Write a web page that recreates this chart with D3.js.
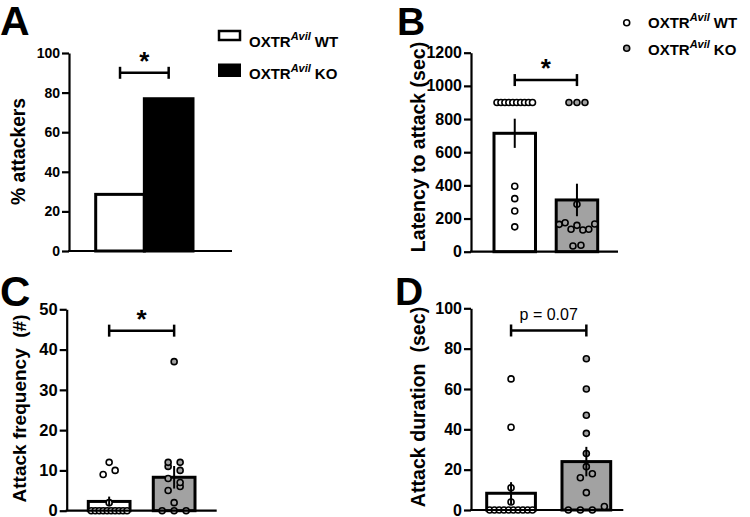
<!DOCTYPE html>
<html><head><meta charset="utf-8">
<script src="https://cdn.jsdelivr.net/npm/d3@7"></script>
<style>
body{margin:0;background:#fff;}
text{font-family:"Liberation Sans",Arial,sans-serif;}
</style></head>
<body><svg id="c" width="750" height="517"></svg>
<script>
// ---------- DATA ----------
const groups = ["WT", "KO"];
const legendLabels = ["WT", "KO"];
const pctAttackers = [28.6, 76.9];

const latencyMean = [714, 312];
const latencySem = [88, 98];
const latencyWT = [900, 900, 900, 900, 900, 900, 900, 900, 900, 900, 395, 320, 245, 150];
const latencyKO = [900, 900, 900, 286, 165, 175, 135, 159, 131, 135, 167, 34, 39];

const freqMean = [2.3, 8.3];
const freqSem = [1.2, 2.8];
const freqWT = [0, 0, 0, 0, 0, 0, 0, 0, 0, 0, 2, 9, 10, 12];
const freqKO = [0, 0, 0, 2, 5, 6, 8, 7, 11, 10, 12, 12, 37];

const durMean = [8.3, 24];
const durSem = [5.5, 7.3];
const durWT = [0, 0, 0, 0, 0, 0, 0, 0, 0, 0, 4, 11, 41, 65];
const durKO = [0, 0, 0, 1.7, 8.6, 16, 18, 21.5, 28, 38, 47, 60, 75];

const ticksA = [0, 20, 40, 60, 80, 100];
const ticksB = [0, 200, 400, 600, 800, 1000, 1200];
const ticksC = [0, 10, 20, 30, 40, 50];
const ticksD = [0, 20, 40, 60, 80, 100];

// ---------- DRAW ----------
const svg = d3.select("#c");
const FONT = '"Liberation Sans",Arial,sans-serif';
const KOGRAY = "#a2a2a2";
const R = 3.0, RS = 1.6;

function swarm(vals, y, cx, step, maxSpan, thr) {
  const items = vals.map((v, i) => ({v, i, py: y(v)}));
  const sorted = items.slice().sort((a, b) => a.v - b.v || a.i - b.i);
  const groupsArr = [];
  let cur = null;
  sorted.forEach(it => {
    if (!cur || Math.abs(it.py - cur[0].py) > thr) { cur = [it]; groupsArr.push(cur); }
    else cur.push(it);
  });
  groupsArr.forEach(gr => {
    gr.sort((a, b) => a.i - b.i);
    const n = gr.length;
    const span = n > 1 ? Math.min(step * (n - 1), maxSpan) : 0;
    gr.forEach((it, k) => { it.px = cx - span / 2 + (n > 1 ? k * span / (n - 1) : 0); });
  });
  return items;
}

function panel(p) {
  const g = svg.append("g");
  const y = d3.scaleLinear().domain([0, p.max]).range([p.y0, p.y1]);
  const x = d3.scaleBand().domain(groups).range(p.xr).paddingInner(p.pi);
  const bw = x.bandwidth();

  // bars
  g.selectAll("rect.bar").data(groups).join("rect")
    .attr("x", d => x(d)).attr("width", bw)
    .attr("y", (d, i) => y(p.means[i])).attr("height", (d, i) => y(0) - y(p.means[i]))
    .attr("fill", (d, i) => p.fills[i]).attr("stroke", "#000").attr("stroke-width", 3);

  // points
  if (p.points) {
    p.points.forEach((vals, gi) => {
      const cx = x(groups[gi]) + bw / 2;
      const pts = swarm(vals, y, cx, p.step, bw - 6, 7.6);
      g.selectAll(null).data(pts).join("circle")
        .attr("cx", d => d.px).attr("cy", d => d.py).attr("r", R)
        .attr("fill", p.ptFills[gi]).attr("stroke", "#000").attr("stroke-width", RS);
    });
  }
  // error bars
  if (p.sems) {
    g.selectAll("line.err").data(groups).join("line")
      .attr("x1", d => x(d) + bw / 2).attr("x2", d => x(d) + bw / 2)
      .attr("y1", (d, i) => y(p.means[i] - p.sems[i])).attr("y2", (d, i) => y(p.means[i] + p.sems[i]))
      .attr("stroke", "#000").attr("stroke-width", 2);
  }

  // axes
  const ax = g.append("g").attr("transform", `translate(${p.ax},0)`)
    .call(d3.axisLeft(y).tickValues(p.ticks).tickFormat(d3.format("d"))
      .tickSize(7).tickPadding(2).tickSizeOuter(0));
  ax.select(".domain").attr("stroke-width", 2.2);
  ax.selectAll(".tick line").attr("stroke-width", 2.2);
  ax.selectAll(".tick text").attr("font-family", FONT).attr("font-weight", "bold")
    .attr("font-size", p.tickFs).attr("fill", "#000");
  g.append("line").attr("x1", p.ax - 1).attr("x2", p.axEnd).attr("y1", y(0)).attr("y2", y(0))
    .attr("stroke", "#000").attr("stroke-width", 2.2);

  // y label
  g.append("text").attr("transform", `translate(${p.lx},${p.ly}) rotate(-90)`)
    .attr("text-anchor", "middle").attr("dy", "0.35em")
    .attr("font-weight", "bold").attr("font-size", p.lfs)
    .style("white-space", "pre").text(p.label);

  // significance bracket
  const bx1 = x(groups[0]) + bw / 2, bx2 = x(groups[1]) + bw / 2, by = y(p.sigY);
  g.append("line").attr("x1", bx1).attr("x2", bx2).attr("y1", by).attr("y2", by).attr("stroke", "#000").attr("stroke-width", 2.5);
  [bx1, bx2].forEach(bx => g.append("line").attr("x1", bx).attr("x2", bx).attr("y1", by - 6).attr("y2", by + 6).attr("stroke", "#000").attr("stroke-width", 2.5));
  if (p.sigText === "*") {
    g.append("text").attr("x", (bx1 + bx2) / 2).attr("y", by - 3).attr("text-anchor", "middle")
      .attr("font-weight", "bold").attr("font-size", 26).text("*");
  } else {
    g.append("text").attr("x", (bx1 + bx2) / 2).attr("y", by - 10).attr("text-anchor", "middle")
      .attr("font-size", 16).text(p.sigText);
  }

  // panel letter
  svg.append("text").attr("x", p.letX).attr("y", p.letY).attr("font-weight", "bold")
    .attr("font-size", p.letFs).text(p.letter);
}

panel({letter: "A", letX: 0, letY: 35, letFs: 41,
  max: 100, y0: 251, y1: 53, xr: [95.7, 193], pi: 0, ax: 69, axEnd: 232,
  means: pctAttackers, fills: ["#fff", "#000"], ticks: ticksA, tickFs: 14,
  label: "% attackers", lx: 18, ly: 151.5, lfs: 19.3, sigY: 90, sigText: "*"});

panel({letter: "B", letX: 397, letY: 35, letFs: 39,
  max: 1200, y0: 251.7, y1: 52.7, xr: [494, 597.7], pi: 0.333, ax: 471, axEnd: 618,
  means: latencyMean, sems: latencySem, fills: ["#fff", KOGRAY], ticks: ticksB, tickFs: 16,
  points: [latencyWT, latencyKO], ptFills: ["#fff", KOGRAY], step: 8,
  label: "Latency to attack (sec)", lx: 418, ly: 147, lfs: 19.5, sigY: 1035, sigText: "*"});

panel({letter: "C", letX: 0, letY: 306, letFs: 42,
  max: 50, y0: 510.7, y1: 309.3, xr: [88.3, 195], pi: 0.358, ax: 66.7, axEnd: 216.7,
  means: freqMean, sems: freqSem, fills: ["#fff", KOGRAY], ticks: ticksC, tickFs: 16.5,
  points: [freqWT, freqKO], ptFills: ["#fff", KOGRAY], step: 12,
  label: "Attack frequency  (#)", lx: 19, ly: 408.5, lfs: 19, sigY: 44.7, sigText: "*"});

panel({letter: "D", letX: 395, letY: 305, letFs: 39,
  max: 100, y0: 510, y1: 308.3, xr: [486.7, 610.7], pi: 0.353, ax: 471, axEnd: 623.3,
  means: durMean, sems: durSem, fills: ["#fff", KOGRAY], ticks: ticksD, tickFs: 16,
  points: [durWT, durKO], ptFills: ["#fff", KOGRAY], step: 12,
  label: "Attack duration  (sec)", lx: 418, ly: 407, lfs: 19.6, sigY: 89, sigText: "p = 0.07"});

// legends
function legendText(xp, yp, suffix) {
  const t = svg.append("text").attr("x", xp).attr("y", yp).attr("font-weight", "bold").attr("font-size", 15);
  t.append("tspan").text("OXTR");
  t.append("tspan").attr("dy", -7).attr("font-size", 11).attr("font-style", "italic").text("Avil");
  t.append("tspan").attr("dy", 7).attr("dx", 4).text(suffix);
}
// legend A (bars)
svg.append("rect").attr("x", 219).attr("y", 31).attr("width", 21).attr("height", 9)
  .attr("fill", "#fff").attr("stroke", "#000").attr("stroke-width", 2.5);
svg.append("rect").attr("x", 218).attr("y", 63.5).attr("width", 23).attr("height", 13.5).attr("fill", "#000");
legendText(249, 47.3, legendLabels[0]);
legendText(249, 79, legendLabels[1]);
// legend B (points)
svg.append("circle").attr("cx", 626.7).attr("cy", 22.7).attr("r", R).attr("fill", "#fff").attr("stroke", "#000").attr("stroke-width", RS);
svg.append("circle").attr("cx", 626.7).attr("cy", 48.3).attr("r", R).attr("fill", KOGRAY).attr("stroke", "#000").attr("stroke-width", RS);
legendText(648, 28.3, legendLabels[0]);
legendText(648, 55, legendLabels[1]);
</script></body></html>
